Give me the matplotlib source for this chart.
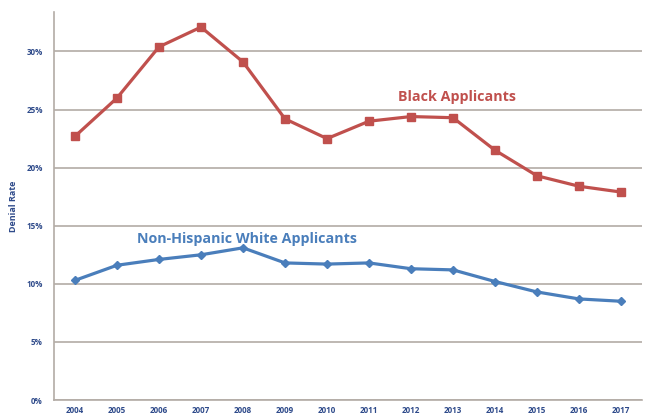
import matplotlib
matplotlib.use("Agg")
import matplotlib.pyplot as plt
from matplotlib.ticker import PercentFormatter

years = ["2004", "2005", "2006", "2007", "2008", "2009", "2010", "2011",
         "2012", "2013", "2014", "2015", "2016", "2017"]
black = [22.7, 26.0, 30.4, 32.1, 29.1, 24.2, 22.5, 24.0, 24.4, 24.3, 21.5, 19.3, 18.4, 17.9]
white = [10.3, 11.6, 12.1, 12.5, 13.1, 11.8, 11.7, 11.8, 11.3, 11.2, 10.2, 9.3, 8.7, 8.5]
yticks = [0, 5, 10, 15, 20, 25, 30]

red = "#c0504d"
blue = "#4a7ebb"
navy = "#2e4a8a"
grid = "#b3aca6"

plt.rcParams['font.family'] = ['Open Sans', 'DejaVu Sans']

fig = plt.figure(figsize=(6.46, 4.19), dpi=100)
ax = fig.add_axes([54/646, 19/419, 588/646, 388/419])

x = list(range(len(years)))
ax.plot(x, black, color=red, lw=2.3, marker="s", ms=5.8, zorder=3)
ax.plot(x, white, color=blue, lw=2.3, marker="D", ms=4.2, zorder=3)

ax.set_xlim(-0.5, len(years) - 0.5)
ax.set_ylim(0, 33.4)
ax.set_xticks(x)
ax.set_xticklabels(years)
ax.set_yticks(yticks)
ax.yaxis.set_major_formatter(PercentFormatter(decimals=0))
ax.tick_params(axis="both", length=0, labelsize=5.8, labelcolor=navy)
for lab in ax.get_xticklabels() + ax.get_yticklabels():
    lab.set_fontweight("bold")
ax.tick_params(axis="y", pad=8)
ax.tick_params(axis="x", pad=4)

ax.grid(axis="y", color=grid, lw=1.2, zorder=0)
ax.set_axisbelow(True)
for s in ["top", "right"]:
    ax.spines[s].set_visible(False)
for s in ["left", "bottom"]:
    ax.spines[s].set_color(grid)
    ax.spines[s].set_linewidth(1.2)

ax.set_ylabel("Denial Rate", fontsize=6.5, fontweight="bold", color=navy, labelpad=6)

ax.text(9.1, 26.1, "Black Applicants", color=red, fontsize=10.3, fontweight="bold",
        ha="center", va="center")
ax.text(4.1, 13.9, "Non-Hispanic White Applicants", color=blue, fontsize=10.3,
        fontweight="bold", ha="center", va="center")

fig.savefig("out.png", dpi=100)
